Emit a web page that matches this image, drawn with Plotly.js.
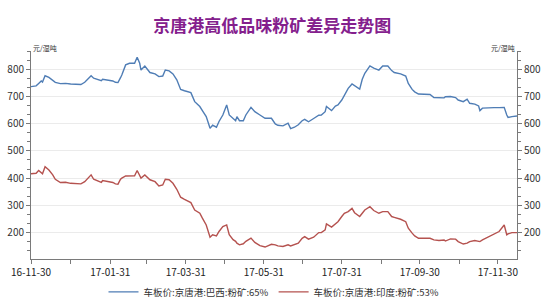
<!DOCTYPE html>
<html>
<head>
<meta charset="utf-8">
<script src="https://cdn.plot.ly/plotly-3.0.1.min.js"></script>
<style>
  html, body { margin: 0; padding: 0; background: #ffffff; }
  #chart { width: 550px; height: 300px; }
</style>
</head>
<body>
<div id="chart"></div>
<script>
const chartTitle = "京唐港高低品味粉矿差异走势图";
const unitLabel = "元/湿吨";
const seriesNames = ["车板价:京唐港:巴西:粉矿:65%", "车板价:京唐港:印度:粉矿:53%"];

const dates = [
  "2016-11-30","2016-12-04","2016-12-06","2016-12-08","2016-12-09","2016-12-11","2016-12-14","2016-12-17","2016-12-19","2016-12-23",
  "2016-12-27","2016-12-31","2017-01-04","2017-01-08","2017-01-11","2017-01-13","2017-01-16","2017-01-18","2017-01-21","2017-01-24",
  "2017-01-25","2017-01-29","2017-02-02","2017-02-04","2017-02-06","2017-02-08","2017-02-09","2017-02-12","2017-02-15","2017-02-19",
  "2017-02-21","2017-02-23","2017-02-24","2017-02-27",
  "2017-03-03","2017-03-07","2017-03-10","2017-03-13","2017-03-15","2017-03-18","2017-03-21","2017-03-24","2017-03-27","2017-03-30",
  "2017-04-02","2017-04-04","2017-04-07","2017-04-11","2017-04-13","2017-04-16","2017-04-19","2017-04-21","2017-04-24","2017-04-26",
  "2017-04-29","2017-05-02","2017-05-04","2017-05-07","2017-05-09","2017-05-10","2017-05-12","2017-05-15","2017-05-17","2017-05-21",
  "2017-05-24","2017-05-28","2017-06-01","2017-06-04",
  "2017-06-06","2017-06-09","2017-06-11","2017-06-15","2017-06-19","2017-06-21","2017-06-24","2017-06-27","2017-06-30","2017-07-02",
  "2017-07-05","2017-07-09","2017-07-13","2017-07-15","2017-07-18","2017-07-19","2017-07-23","2017-07-26","2017-07-28","2017-07-31",
  "2017-08-02","2017-08-05","2017-08-08","2017-08-10","2017-08-14","2017-08-16","2017-08-18","2017-08-22","2017-08-25","2017-08-29",
  "2017-09-01","2017-09-05","2017-09-08",
  "2017-09-10","2017-09-15","2017-09-19","2017-09-21","2017-09-24","2017-09-26","2017-09-29","2017-10-03","2017-10-08","2017-10-11",
  "2017-10-15","2017-10-19","2017-10-20","2017-10-24","2017-10-28","2017-10-30","2017-11-03","2017-11-06","2017-11-08","2017-11-12",
  "2017-11-15","2017-11-16","2017-11-18","2017-11-23","2017-11-27","2017-12-01","2017-12-05","2017-12-07","2017-12-08","2017-12-11",
  "2017-12-15"
];

const brazil65 = [
  736,739,748,757,753,776,770,761,752,747,
  748,746,744,744,752,761,776,767,763,758,
  763,761,757,752,751,769,779,816,822,822,
  844,822,797,812,
  788,783,773,775,797,794,783,761,726,721,
  716,714,681,663,648,626,583,595,587,608,
  632,669,632,620,611,626,611,611,632,660,
  644,632,620,620,
  620,599,594,592,602,582,587,596,611,616,
  607,619,631,632,644,663,648,665,669,687,
  706,730,746,739,727,763,785,812,804,797,
  812,812,795,
  788,783,775,748,726,717,709,707,707,696,
  695,695,699,700,696,687,681,690,675,672,
  665,648,657,659,659,659,660,632,623,626,
  628
];

const india53 = [
  416,418,428,420,416,442,430,412,396,384,
  385,381,379,379,387,396,412,396,391,384,
  391,387,384,379,378,396,400,408,409,409,
  428,412,400,412,
  394,387,371,375,396,394,381,359,330,322,
  314,310,283,271,253,228,183,192,188,204,
  222,228,192,174,168,161,155,159,168,180,
  164,152,147,152,
  157,155,151,149,155,151,155,161,179,185,
  176,183,200,200,210,232,220,234,240,259,
  271,277,289,273,259,271,283,295,281,271,
  277,277,259,
  256,249,240,216,198,188,179,178,179,173,
  171,173,169,177,176,167,158,161,167,171,
  169,167,173,185,195,204,228,192,195,200,
  200
];

const tickDates = ["2016-11-30","2017-01-31","2017-03-31","2017-05-31","2017-07-31","2017-09-30","2017-11-30"];
const tickLabels = ["16-11-30","17-01-31","17-03-31","17-05-31","17-07-31","17-09-30","17-11-30"];
const minorTickDates = ["2016-12-31","2017-02-28","2017-04-30","2017-06-30","2017-08-31","2017-10-31"];
const xRange = ["2016-11-30","2017-12-15"];
const yRange = [103, 867];

const FONT = "'Noto Sans CJK SC', 'Noto Sans', 'DejaVu Sans', sans-serif";
const AXIS_COLOR = "#7a7a7a";

const traces = [
  {
    x: dates, y: brazil65, name: seriesNames[0], type: "scatter", mode: "lines",
    line: { color: "#4f7db5", width: 1.4 }, yaxis: "y"
  },
  {
    x: dates, y: india53, name: seriesNames[1], type: "scatter", mode: "lines",
    line: { color: "#b5524f", width: 1.4 }, yaxis: "y2"
  }
];

const yCommon = {
  range: yRange, fixedrange: true, automargin: false,
  tickmode: "linear", tick0: 0, dtick: 100,
  ticks: "outside", ticklen: 4, tickwidth: 1, tickcolor: AXIS_COLOR,
  showline: true, linecolor: AXIS_COLOR, linewidth: 1,
  tickfont: { family: FONT, size: 10, color: "#333333" },
  minor: { tick0: 0, dtick: 100/3, ticks: "outside", ticklen: 3, tickcolor: AXIS_COLOR, showgrid: false },
  zeroline: false
};

const layout = {
  width: 550, height: 300,
  margin: { l: 31, r: 33, t: 51, b: 41, pad: 0, autoexpand: false },
  paper_bgcolor: "#ffffff", plot_bgcolor: "#ffffff",
  font: { family: FONT, size: 10, color: "#333333" },
  title: {
    text: chartTitle, x: 0.495, xanchor: "center", y: 0.913, yanchor: "middle",
    font: { family: FONT, size: 17, color: "#84208d", weight: "bold" }
  },
  xaxis: {
    type: "date", range: xRange, fixedrange: true, automargin: false,
    tickmode: "array", tickvals: tickDates, ticktext: tickLabels,
    ticks: "outside", ticklen: 4, tickwidth: 1, tickcolor: AXIS_COLOR,
    showline: true, linecolor: AXIS_COLOR, linewidth: 1,
    showgrid: false, zeroline: false,
    tickfont: { family: FONT, size: 10, color: "#222222" },
    minor: { tickmode: "array", tickvals: minorTickDates, ticks: "outside", ticklen: 4, tickcolor: AXIS_COLOR, showgrid: false }
  },
  yaxis: Object.assign({}, yCommon, {
    side: "left", showgrid: true, gridcolor: "#ebebeb", gridwidth: 1
  }),
  yaxis2: Object.assign({}, yCommon, {
    side: "right", overlaying: "y", showgrid: false
  }),
  showlegend: true,
  legend: {
    orientation: "h", x: 0.5, xanchor: "center",
    yref: "container", y: 0.027, yanchor: "middle",
    font: { family: FONT, size: 9.5, color: "#333333" },
    itemwidth: 30, bgcolor: "rgba(0,0,0,0)"
  },
  annotations: [
    { text: unitLabel, xref: "paper", yref: "paper", x: 0, xanchor: "left", y: 1.014, yanchor: "middle",
      showarrow: false, font: { family: FONT, size: 7, color: "#333333" } },
    { text: unitLabel, xref: "paper", yref: "paper", x: 1, xanchor: "right", y: 1.014, yanchor: "middle",
      showarrow: false, font: { family: FONT, size: 7, color: "#333333" } }
  ]
};

Plotly.newPlot("chart", traces, layout, { displayModeBar: false, staticPlot: true });
</script>
</body>
</html>
